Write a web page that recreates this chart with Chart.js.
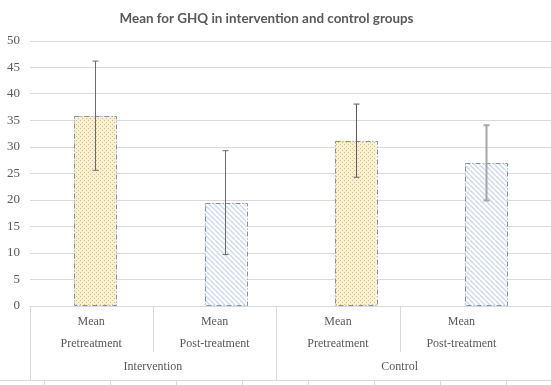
<!DOCTYPE html>
<html>
<head>
<meta charset="utf-8">
<script src="https://cdn.jsdelivr.net/npm/chart.js@4.4.1/dist/chart.umd.min.js"></script>
<style>
  body { margin: 0; background: #fff; }
  canvas { display: block; }
</style>
</head>
<body>
<canvas id="ghqChart" width="551" height="385"></canvas>
<script>
// data
const categories = ['Intervention Pre', 'Intervention Post', 'Control Pre', 'Control Post'];
const rowOne = ['Mean', 'Mean', 'Mean', 'Mean'];
const rowTwo = ['Pretreatment', 'Post-treatment', 'Pretreatment', 'Post-treatment'];
const groups = ['Intervention', 'Control'];
const means = [35.9, 19.5, 31.2, 27.0];
const errors = [10.3, 9.8, 6.9, 7.1];
const yTicks = [0, 5, 10, 15, 20, 25, 30, 35, 40, 45, 50];

const textGrey = '#595959';
const lineGrey = '#d9d9d9';
const serif = 'Liberation Serif';

function dotPattern() {
    const c = document.createElement('canvas');
    c.width = 4; c.height = 4;
    const g = c.getContext('2d');
    g.fillStyle = '#fcf0cc';
    g.fillRect(0, 0, 4, 4);
    g.fillStyle = '#c9bf9f';
    g.fillRect(0, 0, 1, 1);
    g.fillRect(2, 2, 1, 1);
    return g.createPattern(c, 'repeat');
}

function stripePattern() {
    const s = 5;
    const c = document.createElement('canvas');
    c.width = s; c.height = s;
    const g = c.getContext('2d');
    g.fillStyle = '#ffffff';
    g.fillRect(0, 0, s, s);
    g.strokeStyle = '#ccd8ee';
    g.lineWidth = 1.4;
    g.beginPath();
    [-s, 0, s].forEach(k => {
        g.moveTo(k, 0);
        g.lineTo(k + s, s);
    });
    g.stroke();
    return g.createPattern(c, 'repeat');
}

const dots = dotPattern();
const stripes = stripePattern();
const fills = [dots, stripes, dots, stripes];
const whiskerColors = ['#6b6b6b', '#6b6b6b', '#5a5a5a', '#a6a6a6'];
const whiskerWidths = [1, 1, 1, 2];

const decor = {
    id: 'decor',
    afterDatasetsDraw(chart) {
        const ctx = chart.ctx;
        const y = chart.scales.y;
        const bars = chart.getDatasetMeta(0).data;
        ctx.save();
        // dashed outlines
        bars.forEach(bar => {
            const p = bar.getProps(['x', 'y', 'base', 'width'], true);
            ctx.strokeStyle = '#7f90b2';
            ctx.lineWidth = 1;
            ctx.setLineDash([5, 2, 1, 2]);
            ctx.strokeRect(Math.round(p.x - p.width / 2) + 0.5, Math.round(p.y) + 0.5,
                Math.round(p.width), Math.round(p.base - p.y) - 1);
        });
        ctx.setLineDash([]);
        // error bars
        bars.forEach((bar, i) => {
            const x = Math.round(bar.x) + 0.5;
            const top = y.getPixelForValue(means[i] + errors[i]);
            const bot = y.getPixelForValue(means[i] - errors[i]);
            ctx.strokeStyle = whiskerColors[i];
            ctx.lineWidth = whiskerWidths[i];
            ctx.beginPath();
            ctx.moveTo(x, top); ctx.lineTo(x, bot);
            ctx.moveTo(x - 3, top); ctx.lineTo(x + 3, top);
            ctx.moveTo(x - 3, bot); ctx.lineTo(x + 3, bot);
            ctx.stroke();
        });
        ctx.restore();
    },
    afterDraw(chart) {
        const ctx = chart.ctx;
        const left = 29.5;
        const cellW = 123.4;
        const axisY = 306.5;
        ctx.save();
        // title
        ctx.fillStyle = textGrey;
        ctx.font = 'bold 13.4px Lato, "Open Sans", sans-serif';
        ctx.textAlign = 'center';
        ctx.textBaseline = 'middle';
        ctx.fillText('Mean for GHQ in intervention and control groups', 266.5, 19);

        // category table lines
        ctx.strokeStyle = lineGrey;
        ctx.lineWidth = 1;
        ctx.beginPath();
        ctx.moveTo(left, axisY); ctx.lineTo(551, axisY);
        for (let i = 0; i < categories.length; i++) {
            const x = Math.round(left + i * cellW) + 0.5;
            const end = (i % 2 === 0) ? 380 : 352;
            ctx.moveTo(x, axisY); ctx.lineTo(x, end);
        }
        ctx.moveTo(0, 380.5); ctx.lineTo(551, 380.5);
        for (let x = 44; x < 551; x += 66) {
            ctx.moveTo(x + 0.5, 380); ctx.lineTo(x + 0.5, 385);
        }
        ctx.stroke();

        // category labels
        ctx.fillStyle = textGrey;
        ctx.font = '12px "Liberation Serif", serif';
        categories.forEach((c, i) => {
            const cx = left + (i + 0.5) * cellW;
            ctx.fillText(rowOne[i], cx, 322);
            ctx.fillText(rowTwo[i], cx, 344);
        });
        groups.forEach((g, i) => {
            ctx.fillText(g, left + (i * 2 + 1) * cellW, 367);
        });
        ctx.restore();
    }
};

new Chart(document.getElementById('ghqChart').getContext('2d'), {
    type: 'bar',
    data: {
        labels: categories,
        datasets: [{
            data: means,
            backgroundColor: fills,
            borderWidth: 0,
            barPercentage: 0.4,
            categoryPercentage: 0.8
        }]
    },
    options: {
        responsive: false,
        animation: false,
        layout: { padding: { top: 41, right: 0, bottom: 0, left: 0 } },
        plugins: {
            legend: { display: false },
            tooltip: { enabled: false }
        },
        scales: {
            x: {
                ticks: { display: false },
                grid: { display: false },
                border: { display: false },
                afterFit: scale => { scale.height = 79; }
            },
            y: {
                min: 0,
                max: 50,
                afterBuildTicks: scale => { scale.ticks = yTicks.map(v => ({ value: v })); },
                ticks: {
                    padding: 10,
                    color: textGrey,
                    font: { family: serif, size: 13 }
                },
                grid: { color: lineGrey, drawTicks: false },
                border: { display: false },
                afterFit: scale => { scale.width = 30; }
            }
        }
    },
    plugins: [decor]
});
</script>
</body>
</html>
